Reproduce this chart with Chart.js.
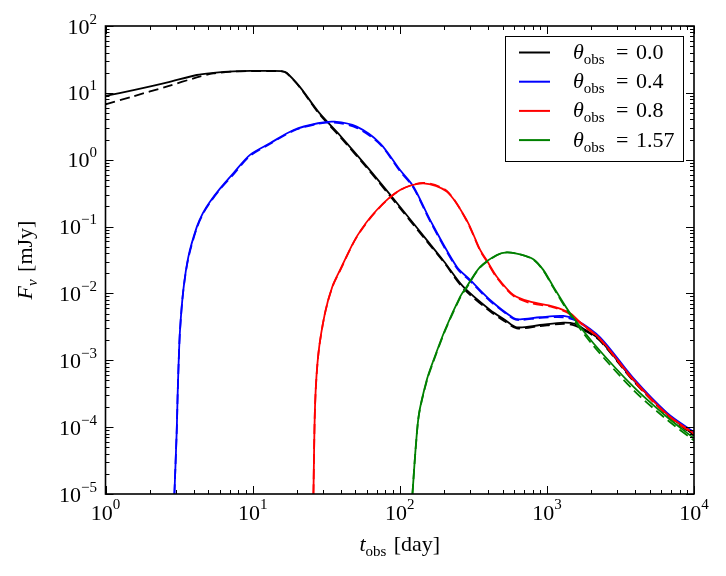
<!DOCTYPE html>
<html>
<head>
<meta charset="utf-8">
<script src="https://cdn.jsdelivr.net/npm/chart.js@4.4.0/dist/chart.umd.min.js"></script>
<style>
    html, body {margin: 0; padding: 0; background: #fff;}
    canvas {display: block;}
</style>
</head>
<body>
<canvas id="lightcurve" width="726" height="576"></canvas>
<script>
// observed flux vs time, one curve per viewing angle (solid + dashed run)
var tBlack = [1, 1.55, 2.6, 4.17, 5.41, 7.39, 10, 13, 15.8, 17, 21, 28, 40, 60, 100, 150, 200, 270, 411, 520, 624, 899, 1294, 1550, 1800, 2300, 3870, 6530, 10000];
var fBlack = [9.0, 11.0, 14.2, 18.5, 19.9, 21.0, 21.3, 21.3, 21.1, 20.0, 12.2, 5.2, 2.2, 0.78, 0.2, 0.066, 0.03, 0.0126, 0.00565, 0.0040, 0.00311, 0.00337, 0.00366, 0.0035, 0.0029, 0.00201, 5.1e-4, 1.6e-4, 7.6e-5];
var fBlackDash = [6.75, 8.9, 12.4, 17.0, 19.5, 20.8, 21.2, 21.2, 21.0, 19.8, 12.0, 5.0, 2.1, 0.75, 0.19, 0.063, 0.029, 0.012, 0.0054, 0.0038, 0.003, 0.00325, 0.0035, 0.0033, 0.0028, 0.00195, 4.9e-4, 1.55e-4, 7.4e-5];

var tBlue = [2.94, 3.05, 3.09, 3.14, 3.21, 3.38, 3.66, 4.17, 4.6, 5.13, 6.0, 7.39, 9.6, 13.1, 19, 27.8, 36, 51, 73.5, 100.5, 124, 161, 244, 301, 411, 592, 658, 899, 1294, 1587, 2300, 3870, 6530, 10000];
var fBlue = [1e-5, 9.1e-5, 2.86e-4, 9e-4, 2.84e-3, 0.0112, 0.0355, 0.098, 0.16, 0.235, 0.37, 0.627, 1.18, 1.76, 2.78, 3.51, 3.7, 3.12, 1.76, 0.70, 0.395, 0.125, 0.025, 0.0159, 0.00798, 0.0043, 0.0041, 0.0044, 0.0046, 0.0040, 0.0022, 5.4e-4, 1.65e-4, 8.4e-5];
var fBlueDash = [1e-5, 9.0e-5, 2.8e-4, 8.8e-4, 2.8e-3, 0.011, 0.034, 0.094, 0.155, 0.228, 0.36, 0.60, 1.14, 1.72, 2.72, 3.45, 3.6, 3.0, 1.70, 0.67, 0.38, 0.12, 0.024, 0.0153, 0.0077, 0.0042, 0.0040, 0.0043, 0.0044, 0.0039, 0.0021, 5.2e-4, 1.6e-4, 8.2e-5];

var tRed = [25.9, 26.6, 28, 31, 34.8, 39.3, 51, 69.8, 100.5, 145, 209, 285, 352, 391, 457, 592, 769, 1107, 1438, 1683, 2300, 3870, 6530, 10000];
var fRed = [1e-5, 2.28e-4, 1.27e-3, 5.04e-3, 0.0126, 0.0224, 0.0707, 0.177, 0.352, 0.444, 0.333, 0.125, 0.0447, 0.031, 0.0178, 0.0095, 0.00753, 0.00634, 0.00505, 0.0037, 0.0021, 5.2e-4, 1.58e-4, 8.0e-5];
var fRedDash = [1e-5, 2.25e-4, 1.25e-3, 5.0e-3, 0.0124, 0.022, 0.0695, 0.174, 0.35, 0.45, 0.34, 0.122, 0.0435, 0.030, 0.0172, 0.0092, 0.0072, 0.0062, 0.0049, 0.0036, 0.00205, 5.0e-4, 1.52e-4, 7.8e-5];

var tGreen = [122, 128.5, 135.3, 152.6, 166.6, 203, 257, 285, 352, 457, 534, 658, 809, 945, 1107, 1438, 2071, 3870, 6530, 10000];
var fGreen = [1e-5, 5.1e-5, 1.61e-4, 5.07e-4, 9.0e-4, 2.84e-3, 8.9e-3, 0.0126, 0.025, 0.0376, 0.0412, 0.0385, 0.0325, 0.0225, 0.0126, 0.00505, 1.8e-3, 4.03e-4, 1.43e-4, 6.8e-5];
var fGreenDash = [1e-5, 5.0e-5, 1.58e-4, 4.9e-4, 8.7e-4, 2.75e-3, 8.6e-3, 0.0122, 0.0245, 0.0372, 0.041, 0.0383, 0.032, 0.022, 0.0122, 0.0048, 1.65e-3, 3.6e-4, 1.3e-4, 6.3e-5];

var legendLabels = ['0.0', '0.4', '0.8', '1.57'];
var legendColors = ['#000000', '#0000ff', '#ff0000', '#008000'];
var xTickExps = [0, 1, 2, 3, 4];
var yTickExps = [2, 1, 0, -1, -2, -3, -4, -5];

var SERIF = '"Liberation Serif", "Times New Roman", serif';
var BIG = '22px ' + SERIF;
var SMALL = '15px ' + SERIF;
var ITAL = 'italic 22px ' + SERIF;

function series(ts, fs) {
    return ts.map(function (t, i) { return {x: t, y: fs[i]}; });
}

function line(ts, fs, color, dashed, order) {
    return {
        data: series(ts, fs),
        borderColor: color,
        borderWidth: 1.8,
        borderDash: dashed ? [10, 5] : [],
        order: order
    };
}

// draws a run of [text, font, dy] pieces
function drawParts(ctx, parts, x, y, align) {
    var w = 0;
    parts.forEach(function (p) { ctx.font = p[1]; w += ctx.measureText(p[0]).width; });
    var cx = align === 'center' ? x - w / 2 : (align === 'right' ? x - w : x);
    parts.forEach(function (p) {
        ctx.font = p[1];
        ctx.fillText(p[0], cx, y + (p[2] || 0));
        cx += ctx.measureText(p[0]).width;
    });
}

function expText(e) {
    return e < 0 ? '\u2212' + (-e) : String(e);
}

var frame = {
    id: 'frame',
    afterDatasetsDraw: function (chart) {
        var ctx = chart.ctx;
        var a = chart.chartArea;
        var xs = chart.scales.x, ys = chart.scales.y;
        ctx.save();
        ctx.strokeStyle = '#000';
        ctx.fillStyle = '#000';

        // inward ticks on all four sides
        ctx.lineWidth = 1;
        ctx.beginPath();
        for (var e = 0; e <= 4; e++) {
            for (var m = 1; m <= 9; m++) {
                var v = m * Math.pow(10, e);
                if (v > 1e4) break;
                var px = Math.round(xs.getPixelForValue(v)) + 0.5;
                var len = m === 1 ? 8 : 4;
                ctx.moveTo(px, a.bottom); ctx.lineTo(px, a.bottom - len);
                ctx.moveTo(px, a.top); ctx.lineTo(px, a.top + len);
            }
        }
        for (var e2 = -5; e2 <= 2; e2++) {
            for (var m2 = 1; m2 <= 9; m2++) {
                var v2 = m2 * Math.pow(10, e2);
                if (v2 > 100) break;
                var py = Math.round(ys.getPixelForValue(v2)) + 0.5;
                var len2 = m2 === 1 ? 8 : 4;
                ctx.moveTo(a.left, py); ctx.lineTo(a.left + len2, py);
                ctx.moveTo(a.right, py); ctx.lineTo(a.right - len2, py);
            }
        }
        ctx.stroke();

        ctx.lineWidth = 1.6;
        ctx.strokeRect(a.left, a.top, a.right - a.left, a.bottom - a.top);

        // tick labels
        ctx.textBaseline = 'alphabetic';
        ctx.textAlign = 'left';
        xTickExps.forEach(function (e) {
            var px = xs.getPixelForValue(Math.pow(10, e));
            drawParts(ctx, [['10', BIG, 0], [expText(e), SMALL, -11]], px, 520, 'center');
        });
        yTickExps.forEach(function (e) {
            var py = ys.getPixelForValue(Math.pow(10, e));
            drawParts(ctx, [['10', BIG, 0], [expText(e), SMALL, -10]], 97, py + 7.5, 'right');
        });

        // axis titles
        drawParts(ctx, [['t', ITAL, 0], ['obs', SMALL, 5], [' \u200a[day]', BIG, 0]], (a.left + a.right) / 2, 551, 'center');
        ctx.save();
        ctx.translate(32, (a.top + a.bottom) / 2);
        ctx.rotate(-Math.PI / 2);
        drawParts(ctx, [['F', ITAL, 0], ['\u03bd', 'italic 15px ' + SERIF, 5], [' \u200a[mJy]', BIG, 0]], 0, 0, 'center');
        ctx.restore();

        // legend
        ctx.fillStyle = '#fff';
        ctx.fillRect(505.5, 36.5, 178, 125);
        ctx.lineWidth = 1;
        ctx.strokeStyle = '#000';
        ctx.strokeRect(505.5, 36.5, 178, 125);
        legendLabels.forEach(function (lab, i) {
            var ry = 52.5 + i * 29.2;
            ctx.strokeStyle = legendColors[i];
            ctx.lineWidth = 2;
            ctx.beginPath();
            ctx.moveTo(519, ry); ctx.lineTo(550, ry);
            ctx.stroke();
            ctx.fillStyle = '#000';
            drawParts(ctx, [['\u03b8', ITAL, 0], ['obs', SMALL, 5]], 573, ry + 6.5, 'left');
            drawParts(ctx, [['=', BIG, 0]], 616, ry + 6.5, 'left');
            drawParts(ctx, [[lab, BIG, 0]], 636, ry + 6.5, 'left');
        });
        ctx.restore();
    }
};

new Chart(document.getElementById('lightcurve').getContext('2d'), {
    type: 'line',
    data: {
        datasets: [
            line(tBlack, fBlack, '#000000', false, 8),
            line(tBlack, fBlackDash, '#000000', true, 7),
            line(tBlue, fBlue, '#0000ff', false, 6),
            line(tBlue, fBlueDash, '#0000ff', true, 5),
            line(tRed, fRed, '#ff0000', false, 4),
            line(tRed, fRedDash, '#ff0000', true, 3),
            line(tGreen, fGreen, '#008000', false, 2),
            line(tGreen, fGreenDash, '#008000', true, 1)
        ]
    },
    options: {
        responsive: false,
        animation: false,
        devicePixelRatio: 1,
        layout: {padding: {left: 105.5, right: 32, top: 26, bottom: 82}},
        elements: {
            point: {radius: 0},
            line: {tension: 0.3, fill: false}
        },
        plugins: {
            legend: {display: false},
            tooltip: {enabled: false}
        },
        scales: {
            x: {type: 'logarithmic', min: 1, max: 1e4, display: false},
            y: {type: 'logarithmic', min: 1e-5, max: 1e2, display: false}
        }
    },
    plugins: [frame]
});
</script>
</body>
</html>
